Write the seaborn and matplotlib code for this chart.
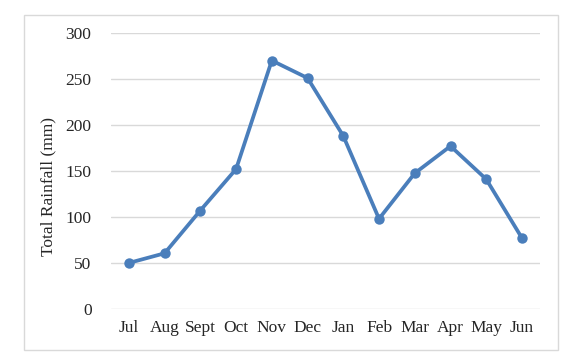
import matplotlib
matplotlib.use('Agg')
import matplotlib.pyplot as plt
import matplotlib.patches as patches
import seaborn as sns
import pandas as pd

# Date lunare
months = ['Jul', 'Aug', 'Sept', 'Oct', 'Nov', 'Dec', 'Jan', 'Feb', 'Mar', 'Apr', 'May', 'Jun']
rainfall = [50, 60.5, 107, 152, 270, 251, 188, 98, 147.5, 177, 141, 77]

df = pd.DataFrame({'month': months, 'rainfall': rainfall})

sns.set_style('white')
plt.rcParams['font.family'] = ['Liberation Serif', 'DejaVu Serif']

fig = plt.figure(figsize=(5.78, 3.58), dpi=100)
ax = fig.add_axes([0.192, 0.137, 0.742, 0.771])

sns.lineplot(x='month', y='rainfall', data=df, sort=False, ax=ax,
             color='#4a7ebb', linewidth=2.7, marker='o', markersize=7.5,
             markeredgewidth=0)

ax.set_ylim(0, 300)
ax.set_xlim(-0.5, len(months) - 0.5)
ax.set_yticks(range(0, 301, 50))
ax.yaxis.grid(True, color='#d9d9d9', linewidth=1)
ax.set_axisbelow(True)
for s in ax.spines.values():
    s.set_visible(False)
ax.tick_params(axis='both', length=0, labelsize=12.5, pad=14)
ax.tick_params(axis='x', pad=8)
ax.set_xlabel('')
ax.set_ylabel('Total Rainfall (mm)', fontsize=12.5)
ax.yaxis.set_label_coords(-0.128, 0.442)

# Chenar în jurul graficului
fig.patches.append(patches.Rectangle((24 / 578, 8 / 358), 534 / 578, 335 / 358,
                                     transform=fig.transFigure, fill=False,
                                     edgecolor='#d9d9d9', linewidth=1))

plt.savefig('out.png', dpi=100)
plt.close()
